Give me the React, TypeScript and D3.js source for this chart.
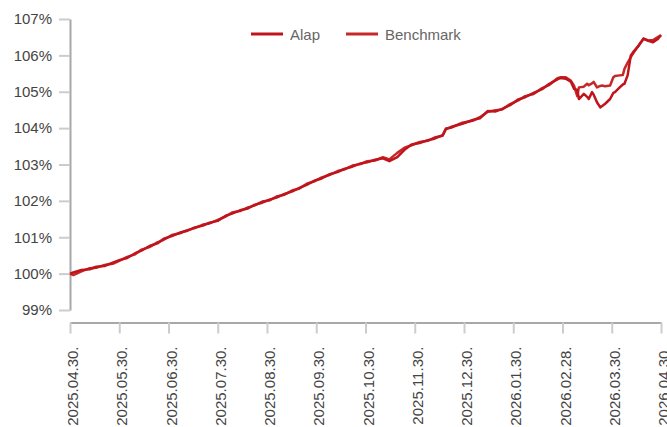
import { useEffect, useRef } from 'react';
import * as d3 from 'd3';

// x axis tick dates (equally spaced on the chart)
const tickDates = [
  '2025-04-30', '2025-05-30', '2025-06-30', '2025-07-30', '2025-08-30', '2025-09-30',
  '2025-10-30', '2025-11-30', '2025-12-30', '2026-01-30', '2026-02-28', '2026-03-30', '2026-04-30',
];

const yTicks = [99, 100, 101, 102, 103, 104, 105, 106, 107];

const dates = [
  '2025-04-30', '2025-05-02', '2025-05-07', '2025-05-12', '2025-05-16', '2025-05-21', '2025-05-26', '2025-05-30',
  '2025-06-04', '2025-06-09', '2025-06-13', '2025-06-18', '2025-06-23', '2025-06-27', '2025-07-02', '2025-07-07',
  '2025-07-11', '2025-07-16', '2025-07-21', '2025-07-25', '2025-07-30', '2025-08-04', '2025-08-08', '2025-08-13',
  '2025-08-18', '2025-08-22', '2025-08-27', '2025-09-01', '2025-09-05', '2025-09-10', '2025-09-15', '2025-09-19',
  '2025-09-24', '2025-09-29', '2025-10-03', '2025-10-08', '2025-10-13', '2025-10-17', '2025-10-22', '2025-10-27',
  '2025-10-31', '2025-11-05', '2025-11-10', '2025-11-14', '2025-11-19', '2025-11-24', '2025-11-28', '2025-12-03',
  '2025-12-08', '2025-12-12', '2025-12-17', '2025-12-19', '2025-12-22', '2025-12-29', '2026-01-05', '2026-01-09',
  '2026-01-14', '2026-01-19', '2026-01-23', '2026-01-28', '2026-02-02', '2026-02-06', '2026-02-11', '2026-02-16',
  '2026-02-20', '2026-02-25', '2026-02-27', '2026-03-02', '2026-03-05', '2026-03-07', '2026-03-09', '2026-03-10',
  '2026-03-13', '2026-03-15', '2026-03-16', '2026-03-18', '2026-03-19', '2026-03-21', '2026-03-23', '2026-03-24',
  '2026-03-26', '2026-03-29', '2026-03-31', '2026-04-01', '2026-04-04', '2026-04-06', '2026-04-07', '2026-04-09',
  '2026-04-11', '2026-04-13', '2026-04-16', '2026-04-19', '2026-04-22', '2026-04-25', '2026-04-28', '2026-04-30',
];

const alap = [
  100.00, 100.03, 100.10, 100.12, 100.19, 100.21, 100.30, 100.37,
  100.43, 100.56, 100.63, 100.76, 100.83, 100.96, 101.03, 101.13,
  101.17, 101.27, 101.32, 101.40, 101.45, 101.59, 101.65, 101.74,
  101.79, 101.89, 101.95, 102.04, 102.09, 102.19, 102.26, 102.35,
  102.44, 102.56, 102.61, 102.73, 102.79, 102.88, 102.94, 103.03,
  103.06, 103.13, 103.17, 103.09, 103.20, 103.42, 103.55, 103.59,
  103.67, 103.71, 103.81, 103.97, 104.03, 104.12, 104.23, 104.27,
  104.47, 104.46, 104.53, 104.63, 104.79, 104.85, 104.97, 105.07,
  105.21, 105.34, 105.38, 105.36, 105.28, 105.08, 105.05, 104.80,
  104.94, 104.86, 104.80, 104.99, 104.92, 104.71, 104.57, 104.60,
  104.67, 104.80, 104.97, 104.99, 105.12, 105.20, 105.22, 105.45,
  106.00, 106.12, 106.27, 106.46, 106.40, 106.36, 106.45, 106.56,
];

const benchmark = [
  100.00, 99.96, 100.06, 100.15, 100.16, 100.24, 100.27, 100.35,
  100.46, 100.53, 100.66, 100.73, 100.86, 100.93, 101.06, 101.11,
  101.19, 101.25, 101.35, 101.38, 101.48, 101.57, 101.68, 101.72,
  101.82, 101.87, 101.98, 102.02, 102.12, 102.17, 102.29, 102.33,
  102.47, 102.54, 102.64, 102.71, 102.82, 102.86, 102.97, 103.01,
  103.09, 103.11, 103.20, 103.14, 103.32, 103.47, 103.53, 103.62,
  103.65, 103.74, 103.79, 103.99, 104.01, 104.15, 104.21, 104.30,
  104.45, 104.49, 104.51, 104.66, 104.76, 104.88, 104.94, 105.10,
  105.18, 105.37, 105.40, 105.40, 105.31, 105.17, 104.88, 105.12,
  105.14, 105.22, 105.18, 105.23, 105.27, 105.12, 105.16, 105.17,
  105.15, 105.17, 105.40, 105.43, 105.45, 105.46, 105.63, 105.80,
  105.95, 106.09, 106.28, 106.46, 106.41, 106.42, 106.50, 106.55,
];

const seriesNames = ['Alap', 'Benchmark'];
const seriesColors = ['#c0141c', '#c62828'];

const FONT = '"Liberation Sans", Arial, Helvetica, sans-serif';

export default function App() {
  const svgRef = useRef<SVGSVGElement>(null);

  useEffect(() => {
    if (!svgRef.current) return;

    const W = 667;
    const H = 427;
    const margin = { top: 19, right: 6, bottom: 117, left: 70 };
    const width = W - margin.left - margin.right;
    const height = H - margin.top - margin.bottom;

    d3.select(svgRef.current).selectAll('*').remove();

    const svg = d3.select(svgRef.current)
      .attr('width', W)
      .attr('height', H)
      .append('g')
      .attr('transform', `translate(${margin.left},${margin.top})`);

    const parse = d3.timeParse('%Y-%m-%d');
    const ticks = tickDates.map(d => parse(d) as Date);
    const step = width / (ticks.length - 1);

    // piecewise scale so that the monthly ticks are equally spaced
    const x = d3.scaleTime()
      .domain(ticks)
      .range(ticks.map((_, i) => i * step));

    const y = d3.scaleLinear()
      .domain([99, 107])
      .range([height, 0]);

    // y axis
    const yAxis = svg.append('g')
      .call(d3.axisLeft(y)
        .tickValues(yTicks)
        .tickSize(11)
        .tickSizeOuter(0)
        .tickPadding(7)
        .tickFormat(d => `${d}%`));
    yAxis.select('.domain').attr('stroke', '#a8a8a8').attr('stroke-width', 2);
    yAxis.selectAll('.tick line').attr('stroke', '#cccccc').attr('stroke-width', 2);
    yAxis.selectAll('.tick text')
      .attr('fill', '#444')
      .style('font-family', FONT)
      .style('font-size', '15px');

    // x axis
    const xAxis = svg.append('g')
      .attr('transform', `translate(0,${height + 12.5})`)
      .call(d3.axisBottom(x)
        .tickValues(ticks)
        .tickSize(11)
        .tickSizeOuter(0)
        .tickFormat(d => d3.timeFormat('%Y.%m.%d.')(d as Date)));
    xAxis.select('.domain').attr('stroke', '#a8a8a8').attr('stroke-width', 2);
    xAxis.selectAll('.tick line').attr('stroke', '#cccccc').attr('stroke-width', 2);
    xAxis.selectAll('.tick text')
      .attr('transform', 'rotate(-90)')
      .attr('text-anchor', 'end')
      .attr('x', -24)
      .attr('y', 0)
      .attr('dy', '0.5em')
      .attr('fill', '#444')
      .style('font-family', FONT)
      .style('font-size', '15px');

    const parsed = dates.map(d => parse(d) as Date);
    const line = d3.line<number>()
      .x((_, i) => x(parsed[i]))
      .y(v => y(v));

    [benchmark, alap].forEach((values, k) => {
      const idx = k === 0 ? 1 : 0;
      svg.append('path')
        .datum(values)
        .attr('fill', 'none')
        .attr('stroke', seriesColors[idx])
        .attr('stroke-width', 2.5)
        .attr('stroke-linejoin', 'round')
        .attr('d', line);
    });

    // legend
    const legend = svg.append('g').attr('transform', `translate(0,${34 - margin.top})`);
    const legendX = [181, 276];
    seriesNames.forEach((name, i) => {
      const g = legend.append('g').attr('transform', `translate(${legendX[i]},0)`);
      g.append('line')
        .attr('x1', 0).attr('x2', 32)
        .attr('y1', 0).attr('y2', 0)
        .attr('stroke', seriesColors[i])
        .attr('stroke-width', 3);
      g.append('text')
        .attr('x', 39)
        .attr('y', 5.5)
        .attr('fill', '#666')
        .style('font-family', FONT)
        .style('font-size', '15px')
        .text(name);
    });
  }, []);

  return (
    <div style={{ position: 'absolute', left: 0, top: 0, width: 667, height: 427, overflow: 'hidden', background: '#fff' }}>
      <svg ref={svgRef} style={{ display: 'block' }}></svg>
    </div>
  );
}
